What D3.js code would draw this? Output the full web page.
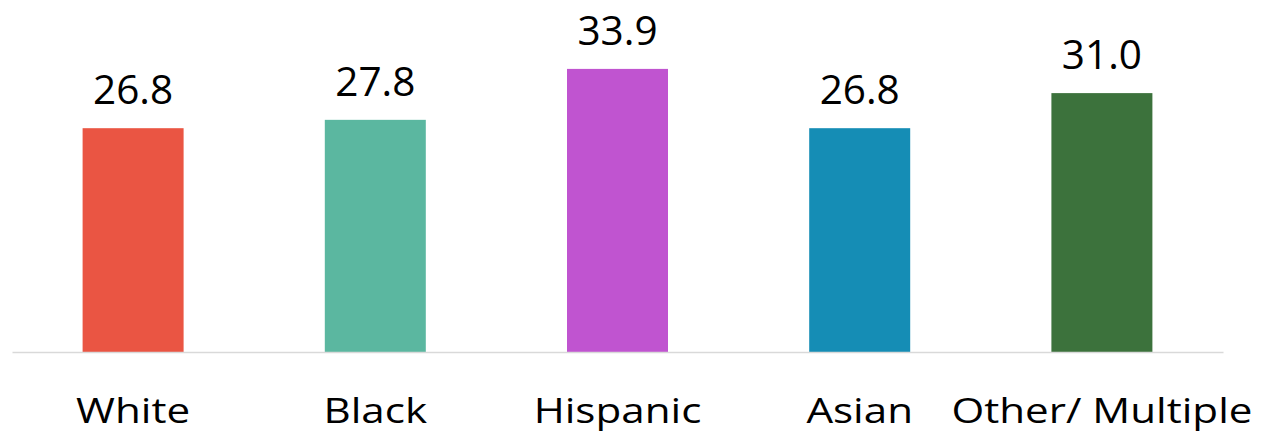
<!DOCTYPE html>
<html>
<head>
<meta charset="utf-8">
<script src="https://cdn.jsdelivr.net/npm/d3@7"></script>
<style>
  html, body { margin: 0; padding: 0; background: #ffffff; }
  svg { display: block; }
</style>
</head>
<body>
<svg id="chart" width="1284" height="437"></svg>
<script>
const categories = ["White", "Black", "Hispanic", "Asian", "Other/ Multiple"];
const values = [26.8, 27.8, 33.9, 26.8, 31.0];
const colors = ["#EA5543", "#5BB7A0", "#C054D0", "#158DB5", "#3C723C"];

const svg = d3.select("#chart");
const font = "'Open Sans', 'Noto Sans', sans-serif";

const x = d3.scaleBand()
  .domain(categories)
  .range([12, 1223])
  .paddingInner(0.583)
  .paddingOuter(0.2915);

const y = d3.scaleLinear()
  .domain([0, 42.15])
  .range([352, 0]);

// bars
svg.append("g").selectAll("rect")
  .data(categories)
  .join("rect")
  .attr("x", d => x(d))
  .attr("width", x.bandwidth())
  .attr("y", (d, i) => y(values[i]))
  .attr("height", (d, i) => y(0) - y(values[i]))
  .attr("fill", (d, i) => colors[i]);

// baseline axis
const axis = svg.append("g")
  .attr("transform", `translate(0,${y(0)})`)
  .call(d3.axisBottom(x).tickSize(0).tickPadding(0).tickFormat(""));
axis.select(".domain").attr("stroke", "#D9D9D9").attr("stroke-width", 1.5);

// category labels
svg.append("g").selectAll("text")
  .data(categories)
  .join("text")
  .attr("transform", d => `translate(${x(d) + x.bandwidth() / 2},423) scale(1.24,1)`)
  .attr("text-anchor", "middle")
  .attr("font-family", font)
  .attr("font-size", 34)
  .attr("fill", "#000")
  .text(d => d);

// value labels
svg.append("g").selectAll("text")
  .data(categories)
  .join("text")
  .attr("x", d => x(d) + x.bandwidth() / 2)
  .attr("y", (d, i) => y(values[i]) - 24)
  .attr("text-anchor", "middle")
  .attr("font-family", font)
  .attr("font-size", 40.5)
  .attr("fill", "#000")
  .text((d, i) => values[i].toFixed(1));
</script>
</body>
</html>
